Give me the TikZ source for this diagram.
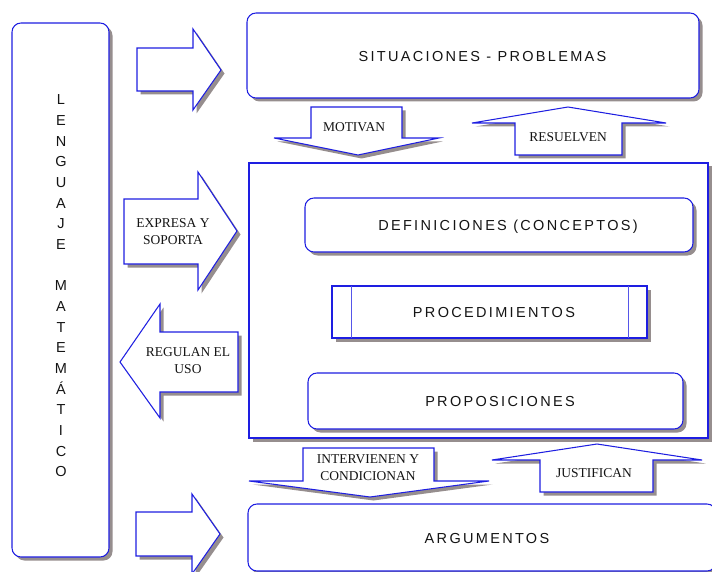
\documentclass[tikz,border=0pt]{standalone}
\usepackage{fontspec}
\usetikzlibrary{shadows}
\setmainfont{Liberation Serif}
\setsansfont{Liberation Sans}
\newfontfamily\boxfont[LetterSpace=16]{Liberation Sans}
\newfontfamily\sidefont{Liberation Sans}
\definecolor{edgeblue}{RGB}{30,30,225}
\definecolor{shade}{RGB}{150,142,142}
\definecolor{ink}{RGB}{20,20,20}
\begin{document}
\begin{tikzpicture}[x=1pt,y=-1pt,
  shp/.style={draw=edgeblue, line width=1.05pt, fill=white,
    drop shadow={shadow xshift=3.5pt, shadow yshift=-3.5pt, fill=shade, opacity=1}},
  boxnode/.style={shp, anchor=north west, inner sep=0pt, outer sep=0pt},
  rbox/.style={boxnode, rounded corners=9pt},
  sbox/.style={boxnode},
  boxtext/.style={text=ink, font=\boxfont\fontsize{14.5}{17}\selectfont, inner sep=0pt},
  arrowtext/.style={text=ink, font=\rmfamily\fontsize{13.5}{17}\selectfont, align=center, inner sep=0pt},
  sidetext/.style={text=ink, font=\sidefont\fontsize{14.5}{20.67}\selectfont, align=center, inner sep=0pt}
]
\useasboundingbox (0,0) rectangle (712,572);
\clip (0,0) rectangle (712,572);

% left column
\node[rbox, minimum width=97pt, minimum height=534pt] (leng) at (12,23) {};
\node[sidetext] (lengt) at (61,286) {L\\E\\N\\G\\U\\A\\J\\E\\\strut\\M\\A\\T\\E\\M\\Á\\T\\I\\C\\O};

% main boxes
\node[rbox, minimum width=452pt, minimum height=85pt] (sit) at (247,13) {};
\node[boxtext] (sitt) at (482.5,57) {SITUACIONES - PROBLEMAS};

\node[sbox, minimum width=459pt, minimum height=275pt] (mid) at (249,163) {};

\node[rbox, minimum width=388pt, minimum height=54pt] (def) at (305,198) {};
\node[boxtext] (deft) at (508,227) {DEFINICIONES (CONCEPTOS)};

\node[sbox, minimum width=315pt, minimum height=52pt] (proc) at (332,286) {};
\draw[edgeblue!75, line width=1pt] ([xshift=19pt]proc.north west) -- ([xshift=19pt]proc.south west);
\draw[edgeblue!75, line width=1pt] ([xshift=-19pt]proc.north east) -- ([xshift=-19pt]proc.south east);
\node[boxtext] (proct) at (494,313) {PROCEDIMIENTOS};

\node[rbox, minimum width=375pt, minimum height=56pt] (prop) at (308,373) {};
\node[boxtext] (propt) at (500,402) {PROPOSICIONES};

\node[rbox, minimum width=468pt, minimum height=67pt] (arg) at (248,504) {};
\node[boxtext] (argt) at (487,539) {ARGUMENTOS};

% block arrows (left side)
\draw[shp] (137,48) -- (193,48) -- (193,29) -- (221,70) -- (193,110) -- (193,91) -- (137,91) -- cycle;
\draw[shp] (124,199) -- (198,199) -- (198,172) -- (237,231) -- (198,290) -- (198,264) -- (124,264) -- cycle;
\node[arrowtext] (expr) at (173,232) {EXPRESA Y\\SOPORTA};
\draw[shp] (238,332) -- (160,332) -- (160,304) -- (120,362) -- (160,418) -- (160,392) -- (238,392) -- cycle;
\node[arrowtext] (reg) at (188,361) {REGULAN EL\\USO};
\draw[shp] (136,512) -- (192,512) -- (192,494) -- (220,534) -- (192,574) -- (192,556) -- (136,556) -- cycle;

% vertical block arrows
\draw[shp] (311,107) -- (402,107) -- (402,138) -- (439,138) -- (358,155) -- (274,138) -- (311,138) -- cycle;
\node[arrowtext] (mot) at (354,127) {MOTIVAN};
\draw[shp] (515,155) -- (515,123) -- (472,123) -- (568,107) -- (666,123) -- (622,123) -- (622,155) -- cycle;
\node[arrowtext] (res) at (568,137) {RESUELVEN};
\draw[shp] (303,448) -- (434,448) -- (434,481) -- (489,481) -- (370,497) -- (249,481) -- (303,481) -- cycle;
\node[arrowtext] (int) at (368,468) {INTERVIENEN Y\\CONDICIONAN};
\draw[shp] (540,492) -- (540,460) -- (492,460) -- (597,444) -- (702,460) -- (653,460) -- (653,492) -- cycle;
\node[arrowtext] (jus) at (594,473) {JUSTIFICAN};
\end{tikzpicture}
\end{document}
